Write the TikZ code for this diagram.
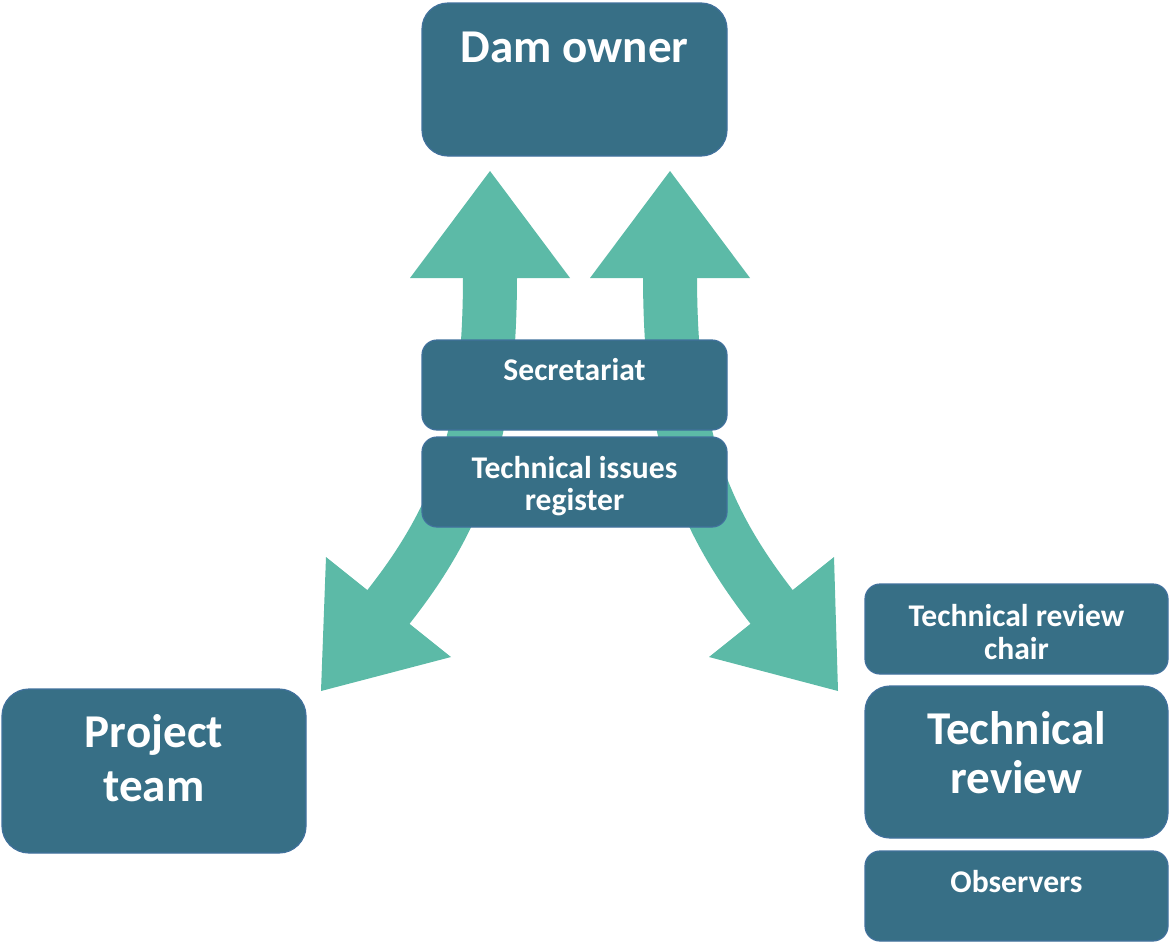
\documentclass[tikz,border=0pt]{standalone}
\usepackage{fontspec}
\setmainfont{Carlito}
\newcommand\pxu{0.75pt}
\definecolor{boxfill}{HTML}{376F86}
\definecolor{boxline}{HTML}{41719C}
\definecolor{arrowgreen}{HTML}{5CBAA7}
\tikzset{
  box/.style={draw=boxline, fill=boxfill, line width=1.2*\pxu, rounded corners=#1*\pxu, inner sep=0pt},
  box/.default=16,
  shaft/.style={draw=arrowgreen, line width=54*\pxu, line cap=butt},
  head/.style={fill=arrowgreen},
  bigtxt/.style={text=white, font=\bfseries\fontsize{35.3}{37}\selectfont, align=center, inner sep=0pt},
  bigtxttwo/.style={text=white, font=\bfseries\fontsize{35.3}{#1}\selectfont, align=center, inner sep=0pt},
  smalltxt/.style={text=white, font=\bfseries\fontsize{23.7}{24.6}\selectfont, align=center, inner sep=0pt},
}
\begin{document}
\begin{tikzpicture}[x=0.75pt, y=-0.75pt]
\useasboundingbox (0,0) rectangle (1169,943);

% arrow end coordinates
\coordinate (ulTip) at (490,171);
\coordinate (ulBase) at (490,274);
\coordinate (dlBase) at (386,610);
\coordinate (dlTip) at (321,691);
\coordinate (urTip) at (670,171);
\coordinate (urBase) at (670,274);
\coordinate (drBase) at (774,610);
\coordinate (drTip) at (838,691);

% arrow shafts
\draw[shaft] (ulBase) .. controls (490,428) and (464,512) .. (dlBase);
\draw[shaft] (urBase) .. controls (670,428) and (697,512) .. (drBase);

% arrow heads
\fill[head] (410,278) -- (ulTip) -- (570,278) -- cycle;
\fill[head] (590,278) -- (urTip) -- (750,278) -- cycle;
\fill[head] (326,557) -- (dlTip) -- (451,657) -- cycle;
\fill[head] (834,557) -- (drTip) -- (709,657) -- cycle;

% boxes
\node[box=26, minimum width=305*\pxu, minimum height=153*\pxu] (dam) at (574.5,79.5) {};
\node[box=15, minimum width=305*\pxu, minimum height=90*\pxu] (sec) at (574.5,385) {};
\node[box=15, minimum width=305*\pxu, minimum height=90*\pxu] (reg) at (574.5,482) {};
\node[box=27, minimum width=304*\pxu, minimum height=164*\pxu] (proj) at (154,771) {};
\node[box=15, minimum width=303*\pxu, minimum height=90*\pxu] (chair) at (1016.5,629) {};
\node[box=25, minimum width=303*\pxu, minimum height=152*\pxu] (trev) at (1016.5,762) {};
\node[box=15, minimum width=303*\pxu, minimum height=90*\pxu] (obs) at (1016.5,896) {};

% texts
\node[bigtxt, anchor=base] (damT) at (574.5,62) {Dam owner};
\node[smalltxt, anchor=base] (secT) at (574.5,380) {Secretariat};
\node[smalltxt] (regT) at (574.5,486) {Technical issues\\register};
\node[bigtxttwo=41] (projT) at (154,758) {Project\\team};
\node[smalltxt] (chairT) at (1016.5,632) {Technical review\\chair};
\node[bigtxttwo=36.8] (trevT) at (1016.5,753) {Technical\\review};
\node[smalltxt, anchor=base] (obsT) at (1016.5,892) {Observers};
\end{tikzpicture}
\end{document}
